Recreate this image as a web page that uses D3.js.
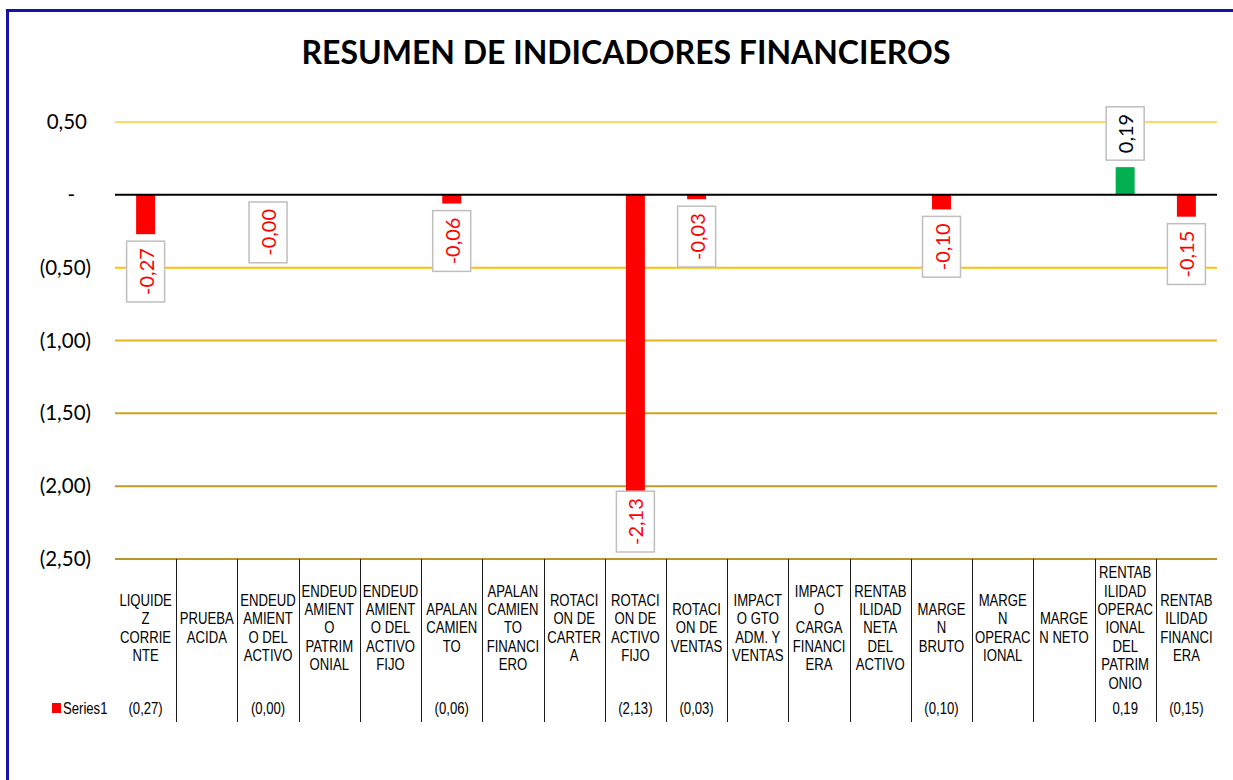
<!DOCTYPE html>
<html>
<head>
<meta charset="utf-8">
<script src="https://cdn.jsdelivr.net/npm/d3@7/dist/d3.min.js"></script>
<style>
  html, body { margin: 0; padding: 0; background: #fff; }
  svg { display: block; }
</style>
</head>
<body>
<svg id="chart" width="1233" height="780"></svg>
<script>
// ---------- DATA ----------
const title = "RESUMEN DE INDICADORES FINANCIEROS";
const categories = [
  "LIQUIDEZ CORRIENTE", "PRUEBA ACIDA", "ENDEUDAMIENTO DEL ACTIVO",
  "ENDEUDAMIENTO PATRIMONIAL", "ENDEUDAMIENTO DEL ACTIVO FIJO", "APALANCAMIENTO",
  "APALANCAMIENTO FINANCIERO", "ROTACION DE CARTERA", "ROTACION DE ACTIVO FIJO",
  "ROTACION DE VENTAS", "IMPACTO GTO ADM. Y VENTAS", "IMPACTO CARGA FINANCIERA",
  "RENTABILIDAD NETA DEL ACTIVO", "MARGEN BRUTO", "MARGEN OPERACIONAL",
  "MARGEN NETO", "RENTABILIDAD OPERACIONAL DEL PATRIMONIO", "RENTABILIDAD FINANCIERA"
];
// category labels as wrapped in the reference
const categoryLines = [
  ["LIQUIDE", "Z", "CORRIE", "NTE"],
  ["PRUEBA", "ACIDA"],
  ["ENDEUD", "AMIENT", "O DEL", "ACTIVO"],
  ["ENDEUD", "AMIENT", "O", "PATRIM", "ONIAL"],
  ["ENDEUD", "AMIENT", "O DEL", "ACTIVO", "FIJO"],
  ["APALAN", "CAMIEN", "TO"],
  ["APALAN", "CAMIEN", "TO", "FINANCI", "ERO"],
  ["ROTACI", "ON DE", "CARTER", "A"],
  ["ROTACI", "ON DE", "ACTIVO", "FIJO"],
  ["ROTACI", "ON DE", "VENTAS"],
  ["IMPACT", "O GTO", "ADM. Y", "VENTAS"],
  ["IMPACT", "O", "CARGA", "FINANCI", "ERA"],
  ["RENTAB", "ILIDAD", "NETA", "DEL", "ACTIVO"],
  ["MARGE", "N", "BRUTO"],
  ["MARGE", "N", "OPERAC", "IONAL"],
  ["MARGE", "N NETO"],
  ["RENTAB", "ILIDAD", "OPERAC", "IONAL", "DEL", "PATRIM", "ONIO"],
  ["RENTAB", "ILIDAD", "FINANCI", "ERA"]
];
const seriesName = "Series1";
const values = [-0.27, null, -0.001, null, null, -0.06, null, null, -2.13,
                -0.03, null, null, null, -0.10, null, null, 0.19, -0.15];
const yTicks = [0.5, 0, -0.5, -1.0, -1.5, -2.0, -2.5];
const yDomain = [-2.5, 0.5];

// ---------- LAYOUT ----------
const svg = d3.select("#chart");
const plot = { left: 115, right: 1217, top: 122, bottom: 559 };
const gridColors = ["#FFD966", "#FFD24D", "#FFC000", "#E6B422", "#CFA21C", "#BF9A2E", "#B8962E"];

const fmtComma = v => d3.format(".2f")(Math.abs(v)).replace(".", ",");
const fmtAxis = v => v === 0 ? "-" : (v < 0 ? "(" + fmtComma(v) + ")" : fmtComma(v));
const fmtLabel = v => (v < 0 ? "-" : "") + fmtComma(v);
const fmtTable = v => v == null ? "" : (v < 0 ? "(" + fmtComma(v) + ")" : fmtComma(v));

const x = d3.scaleBand().domain(categories).range([plot.left, plot.right]).padding(0);
const y = d3.scaleLinear().domain(yDomain).range([plot.bottom, plot.top]);

// outer border
svg.append("rect")
  .attr("x", 7.5).attr("y", 10.5).attr("width", 1300).attr("height", 900)
  .attr("fill", "none").attr("stroke", "#1414A8").attr("stroke-width", 3);

// title
const titleText = svg.append("text")
  .attr("x", 626).attr("y", 64)
  .attr("text-anchor", "middle")
  .attr("font-family", "Lato, 'Open Sans', sans-serif")
  .attr("font-weight", "bold")
  .attr("font-size", 30)
  .attr("fill", "#000")
  .text(title);
{
  const w = titleText.node().getComputedTextLength();
  titleText.attr("font-size", 30 * 649 / w);
}

// y axis (accounting-style alignment)
const yAxis = d3.axisLeft(y).tickValues(yTicks).tickSize(0).tickFormat(fmtAxis);
const gAxis = svg.append("g").attr("transform", `translate(${plot.left},0)`).call(yAxis);
gAxis.select(".domain").remove();
gAxis.selectAll("text")
  .attr("x", d => d < 0 ? -24 : (d > 0 ? -28 : -40))
  .attr("font-family", "Lato, 'Open Sans', sans-serif")
  .attr("font-size", 20.5)
  .attr("fill", "#000");

// gridlines
svg.append("g").selectAll("line")
  .data(yTicks.filter(t => t !== 0))
  .join("line")
  .attr("x1", plot.left).attr("x2", plot.right)
  .attr("y1", d => y(d)).attr("y2", d => y(d))
  .attr("stroke", d => gridColors[yTicks.indexOf(d)])
  .attr("stroke-width", 2);

// bars
const barW = x.bandwidth() * 0.31;
const data = categories.map((c, i) => ({ c, v: values[i], i }));
svg.append("g").selectAll("rect")
  .data(data.filter(d => d.v != null))
  .join("rect")
  .attr("x", d => x(d.c) + (x.bandwidth() - barW) / 2)
  .attr("width", barW)
  .attr("y", d => Math.min(y(d.v), y(0)))
  .attr("height", d => Math.abs(y(d.v) - y(0)))
  .attr("fill", d => d.v >= 0 ? "#00B050" : "#FF0000");

// zero line
svg.append("line")
  .attr("x1", plot.left).attr("x2", plot.right)
  .attr("y1", y(0)).attr("y2", y(0))
  .attr("stroke", "#000").attr("stroke-width", 2);

// data labels
const gLab = svg.append("g");
data.filter(d => d.v != null).forEach(d => {
  const cx = x(d.c) + x.bandwidth() / 2;
  const g = gLab.append("g");
  const rect = g.append("rect");
  const t = g.append("text")
    .attr("font-family", "Lato, 'Open Sans', sans-serif")
    .attr("font-size", 20)
    .attr("fill", d.v < 0 ? "#FF0000" : "#000")
    .attr("text-anchor", "middle")
    .attr("dominant-baseline", "central")
    .text(fmtLabel(d.v));
  const len = t.node().getComputedTextLength();
  const bw = 38, bh = len + 14;
  let top;
  if (d.v < 0) {
    top = y(d.v) + 7;
    if (top + bh > plot.bottom - 7) top = plot.bottom - 7 - bh;
  } else {
    top = y(d.v) - 7 - bh;
  }
  rect.attr("x", cx - bw / 2).attr("y", top).attr("width", bw).attr("height", bh)
    .attr("fill", "#fff").attr("stroke", "#BFBFBF").attr("stroke-width", 1.5);
  t.attr("transform", `translate(${cx},${top + bh / 2}) rotate(-90)`);
});

// category labels (Arial Narrow look)
const narrow = 0.82;
const labelCenterY = 628, lineH = 18.4;
const gCat = svg.append("g");
data.forEach((d, i) => {
  const lines = categoryLines[i];
  const cx = x(d.c) + x.bandwidth() / 2;
  const y0 = labelCenterY - (lines.length - 1) * lineH / 2;
  const t = gCat.append("text")
    .attr("transform", `translate(${cx},0) scale(${narrow},1)`)
    .attr("font-family", "'Liberation Sans', Arial, sans-serif")
    .attr("font-size", 16)
    .attr("text-anchor", "middle")
    .attr("fill", "#000");
  lines.forEach((ln, k) => {
    t.append("tspan").attr("x", 0).attr("y", y0 + k * lineH)
      .attr("dominant-baseline", "central").text(ln);
  });
});

// separators
const boundaries = categories.slice(1).map(c => x(c));
svg.append("g").selectAll("line")
  .data(boundaries)
  .join("line")
  .attr("x1", d => Math.round(d) + 0.5).attr("x2", d => Math.round(d) + 0.5)
  .attr("y1", plot.bottom).attr("y2", 722)
  .attr("stroke", "#1a1a1a").attr("stroke-width", 1);

// data table row
const rowY = 709;
svg.append("g").selectAll("text")
  .data(data)
  .join("text")
  .attr("transform", d => `translate(${x(d.c) + x.bandwidth() / 2},${rowY}) scale(${narrow},1)`)
  .attr("font-family", "'Liberation Sans', Arial, sans-serif")
  .attr("font-size", 16)
  .attr("text-anchor", "middle")
  .attr("dominant-baseline", "central")
  .attr("fill", "#000")
  .text(d => fmtTable(d.v));

// legend key
svg.append("rect").attr("x", 52).attr("y", 703).attr("width", 9).attr("height", 10).attr("fill", "#FF0000");
svg.append("text")
  .attr("transform", `translate(63,${rowY}) scale(${narrow},1)`)
  .attr("font-family", "'Liberation Sans', Arial, sans-serif")
  .attr("font-size", 16)
  .attr("dominant-baseline", "central")
  .attr("fill", "#000")
  .text(seriesName);
</script>
</body>
</html>
